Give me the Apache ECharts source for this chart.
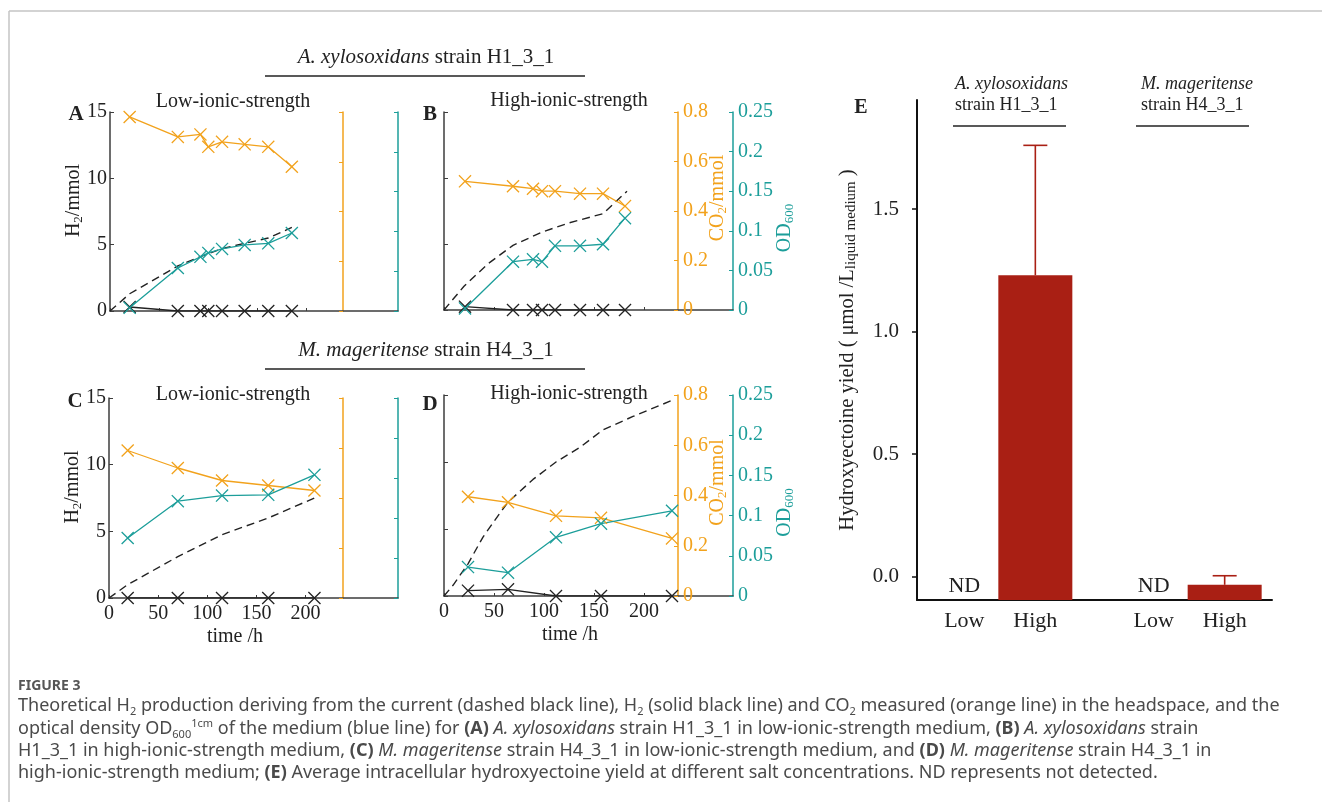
<!DOCTYPE html>
<html>
<head>
<meta charset="utf-8">
<script src="https://cdn.jsdelivr.net/npm/echarts@6/dist/echarts.min.js"></script>
<style>
html, body { margin: 0; padding: 0; background: #fff; }
#chart { width: 1322px; height: 802px; }
</style>
</head>
<body>
<div id="chart"></div>
<script>
// ---- data ----
// A: A. xylosoxidans, low ionic strength
const timeA = [20, 69, 92, 100, 114, 137, 161, 185];
const h2A = [0.3, 0, 0, 0, 0, 0, 0, 0];
const co2A = [0.78, 0.70, 0.71, 0.66, 0.68, 0.67, 0.66, 0.58];
const odA = [0.004, 0.054, 0.068, 0.073, 0.078, 0.083, 0.085, 0.098];
const theoTimeA = [0, 20, 69, 92, 114, 137, 161, 185];
const theoA = [0, 1.3, 3.4, 4.1, 4.7, 5.1, 5.5, 6.3];

// B: A. xylosoxidans, high ionic strength
const timeB = [21, 69, 89, 98, 111, 136, 159, 181];
const h2B = [0.25, 0, 0, 0, 0, 0, 0, 0];
const co2B = [0.52, 0.50, 0.49, 0.48, 0.48, 0.47, 0.47, 0.42];
const odB = [0.002, 0.061, 0.064, 0.061, 0.081, 0.081, 0.083, 0.116];
const theoTimeB = [0, 20, 44, 69, 98, 125, 159, 183];
const theoB = [0, 1.8, 3.5, 4.9, 5.9, 6.6, 7.3, 9.0];

// C: M. mageritense, low ionic strength
const timeC = [19, 70, 115, 162, 209];
const h2C = [0, 0, 0, 0, 0];
const co2C = [0.59, 0.52, 0.47, 0.45, 0.43];
const odC = [0.075, 0.121, 0.128, 0.129, 0.154];
const theoTimeC = [0, 19, 70, 115, 162, 209];
const theoC = [0, 1.0, 3.1, 4.75, 6.0, 7.5];

// D: M. mageritense, high ionic strength
const timeD = [24, 64, 112, 157, 228];
const h2D = [0.4, 0.5, 0, 0, 0];
const co2D = [0.395, 0.373, 0.319, 0.311, 0.229];
const odD = [0.036, 0.029, 0.073, 0.090, 0.106];
const theoTimeD = [0, 9, 24, 39, 56, 64, 89, 112, 136, 159, 189, 228];
const theoD = [0, 0.8, 2.4, 4.4, 6.2, 7.0, 8.7, 10.0, 11.1, 12.4, 13.4, 14.6];

const timeTicks = [0, 50, 100, 150, 200];

// E: hydroxyectoine yield (null = not detected)
const eLabels = ['Low', 'High', 'Low', 'High'];
const eYield = [null, 1.23, null, -0.033];
const eErr = [null, 0.53, null, 0.037];
const eTicks = [0, 0.5, 1.0, 1.5];

// ---- styling ----
const SERIF = '"Liberation Serif", "DejaVu Serif", serif';
const SANS = '"Noto Sans", "Open Sans", sans-serif';
const AXIS = '#3c3c3c';
const ORANGE = '#F2A21C';
const TEAL = '#1C9E9A';
const BLACK = '#222';
const RED = '#A91F14';
const CAP = '#4a4a4a';
const XMARK = 'path://M0,0.7L0.7,0L5,4.3L9.3,0L10,0.7L5.7,5L10,9.3L9.3,10L5,5.7L0.7,10L0,9.3L4.3,5Z';

let chart = echarts.init(document.getElementById('chart'));

const grids = [];
const xAxes = [];
const yAxes = [];
const series = [];

function zip(xs, ys) {
    return xs.map((x, i) => [x, ys[i]]);
}

function nameRich(color, size) {
    return {
        t: { fontFamily: SERIF, fontSize: size, color: color, lineHeight: 22 },
        s: { fontFamily: SERIF, fontSize: size * 0.65, color: color, lineHeight: 11, verticalAlign: 'bottom' }
    };
}

function addPanel(p) {
    const gi = grids.length;
    grids.push({ left: p.left, top: p.top, width: p.width, height: p.height });

    xAxes.push({
        type: 'value', gridIndex: gi, min: 0, max: p.xMax,
        axisLine: { onZero: false, lineStyle: { color: AXIS, width: 1.5 } },
        axisTick: { inside: true, length: 3, customValues: timeTicks, lineStyle: { color: AXIS } },
        axisLabel: { show: p.xLabels, customValues: timeTicks, fontFamily: SERIF, fontSize: 20, color: '#222', margin: 6 },
        splitLine: { show: false },
        name: p.xLabels ? 'time /h' : '',
        nameLocation: 'middle', nameGap: 29, nameMoveOverlap: false,
        nameTextStyle: { fontFamily: SERIF, fontSize: 20, color: '#222', padding: [0, 37, 0, 0] }
    });

    const yi = yAxes.length;
    yAxes.push({
        type: 'value', gridIndex: gi, position: 'left', min: 0, max: 15, interval: 5,
        axisLine: { show: true, onZero: false, lineStyle: { color: AXIS, width: 1.5 } },
        axisTick: { show: true, inside: true, length: 4, lineStyle: { color: AXIS } },
        axisLabel: { show: p.leftLabels, fontFamily: SERIF, fontSize: 20, color: '#222', margin: 3 },
        splitLine: { show: false },
        name: p.leftLabels ? '{t|H}{s|2}{t|/mmol}' : '',
        nameLocation: 'middle', nameGap: 25, nameRotate: 90, nameMoveOverlap: false,
        nameTextStyle: { rich: nameRich('#222', 20), padding: [0, 0, 0, 22] }
    });
    yAxes.push({
        type: 'value', gridIndex: gi, position: 'right', offset: -55, min: 0, max: 0.8, interval: 0.2,
        axisLine: { show: true, onZero: false, lineStyle: { color: ORANGE, width: 1.5 } },
        axisTick: { show: true, inside: true, length: 4, lineStyle: { color: ORANGE } },
        axisLabel: { show: p.rightLabels, fontFamily: SERIF, fontSize: 20, color: ORANGE, margin: 5 },
        splitLine: { show: false },
        name: p.rightLabels ? '{t|CO}{s|2}{t|/mmol}' : '',
        nameLocation: 'middle', nameGap: 29, nameRotate: 90, nameMoveOverlap: false,
        nameTextStyle: { rich: nameRich(ORANGE, 20), padding: [0, 0, 0, 26] }
    });
    yAxes.push({
        type: 'value', gridIndex: gi, position: 'right', offset: 0, min: 0, max: 0.25, interval: 0.05,
        axisLine: { show: true, onZero: false, lineStyle: { color: TEAL, width: 1.5 } },
        axisTick: { show: true, inside: true, length: 4, lineStyle: { color: TEAL } },
        axisLabel: { show: p.rightLabels, fontFamily: SERIF, fontSize: 20, color: TEAL, margin: 5 },
        splitLine: { show: false },
        name: p.rightLabels ? '{t|OD}{s|600}' : '',
        nameLocation: 'middle', nameGap: 41, nameRotate: 90, nameMoveOverlap: false,
        nameTextStyle: { rich: nameRich(TEAL, 20), padding: [0, 34, 0, 0] }
    });

    const mark = (color) => ({
        type: 'line', xAxisIndex: gi, symbol: XMARK, symbolSize: 13,
        lineStyle: { color: color, width: 1.3 },
        itemStyle: { color: color }
    });

    series.push({
        type: 'line', xAxisIndex: gi, yAxisIndex: yi, showSymbol: false,
        lineStyle: { color: BLACK, width: 1.4, type: [8, 5] },
        data: zip(p.theoTime, p.theo)
    });
    series.push(Object.assign(mark(BLACK), { yAxisIndex: yi, data: zip(p.time, p.h2) }));
    series.push(Object.assign(mark(ORANGE), { yAxisIndex: yi + 1, data: zip(p.time, p.co2) }));
    series.push(Object.assign(mark(TEAL), { yAxisIndex: yi + 2, data: zip(p.time, p.od) }));
}

addPanel({ left: 110, top: 112, width: 288, height: 199, xMax: 293, xLabels: false, leftLabels: true, rightLabels: false,
    time: timeA, h2: h2A, co2: co2A, od: odA, theoTime: theoTimeA, theo: theoA });
addPanel({ left: 444, top: 112, width: 289, height: 198, xMax: 289, xLabels: false, leftLabels: false, rightLabels: true,
    time: timeB, h2: h2B, co2: co2B, od: odB, theoTime: theoTimeB, theo: theoB });
addPanel({ left: 109, top: 398, width: 289, height: 200, xMax: 294, xLabels: true, leftLabels: true, rightLabels: false,
    time: timeC, h2: h2C, co2: co2C, od: odC, theoTime: theoTimeC, theo: theoC });
addPanel({ left: 444, top: 395, width: 289, height: 201, xMax: 289, xLabels: true, leftLabels: false, rightLabels: true,
    time: timeD, h2: h2D, co2: co2D, od: odD, theoTime: theoTimeD, theo: theoD });

// ---- panel E ----
const eMin = -0.095;
const eSlot = [2, 5, 10, 13]; // where each bar sits on a 16-slot axis
const eSlots = new Array(16).fill('');
eSlot.forEach((s, i) => { eSlots[s] = eLabels[i]; });

const eGrid = grids.length;
grids.push({ left: 917, top: 100, width: 355, height: 500 });
xAxes.push({
    type: 'category', gridIndex: eGrid, data: eSlots, boundaryGap: false,
    axisLine: { onZero: false, lineStyle: { color: '#111', width: 2 } },
    axisTick: { show: false },
    axisLabel: { interval: 0, fontFamily: SERIF, fontSize: 22, color: '#222', margin: 10 },
    splitLine: { show: false }
});
const eY = yAxes.length;
yAxes.push({
    type: 'value', gridIndex: eGrid, min: eMin, max: 1.945,
    axisLine: { show: true, onZero: false, lineStyle: { color: '#111', width: 2 } },
    axisTick: { show: true, length: 5, customValues: eTicks, lineStyle: { color: '#111', width: 1.5 } },
    axisLabel: { customValues: eTicks, formatter: v => v.toFixed(1), fontFamily: SERIF, fontSize: 21, color: '#222', margin: 18 },
    splitLine: { show: false },
    name: '{t|Hydroxyectoine yield ( μmol /L}{s|liquid medium}{t| )}',
    nameLocation: 'middle', nameGap: 58, nameRotate: 90, nameMoveOverlap: false,
    nameTextStyle: { rich: {
        t: { fontFamily: SERIF, fontSize: 20.5, color: '#222', lineHeight: 22 },
        s: { fontFamily: SERIF, fontSize: 15, color: '#222', lineHeight: 13, verticalAlign: 'bottom' }
    } }
});

const eBars = [];
const eND = [];
eYield.forEach((v, i) => {
    if (v === null) eND.push([eSlot[i], 0]);
    else eBars.push([eSlot[i], v, eErr[i]]);
});

series.push({
    type: 'custom', xAxisIndex: eGrid, yAxisIndex: eY,
    renderItem: function (params, api) {
        const x = api.value(0);
        const v = api.value(1);
        const base = api.coord([x, eMin]);
        const top = api.coord([x, v]);
        const err = api.coord([x, v + api.value(2)]);
        return {
            type: 'group',
            children: [
                { type: 'rect', shape: { x: base[0] - 37, y: top[1], width: 74, height: base[1] - top[1] }, style: { fill: RED } },
                { type: 'line', shape: { x1: top[0], y1: top[1], x2: err[0], y2: err[1] }, style: { stroke: RED, lineWidth: 1.6 } },
                { type: 'line', shape: { x1: err[0] - 12, y1: err[1], x2: err[0] + 12, y2: err[1] }, style: { stroke: RED, lineWidth: 1.6 } }
            ]
        };
    },
    data: eBars
});
series.push({
    type: 'custom', xAxisIndex: eGrid, yAxisIndex: eY,
    renderItem: function (params, api) {
        const p = api.coord([api.value(0), api.value(1)]);
        return {
            type: 'text', x: p[0], y: p[1] - 1,
            style: { text: 'ND', fontFamily: SERIF, fontSize: 22, fill: '#222', align: 'center', verticalAlign: 'top' }
        };
    },
    data: eND
});

// ---- text and frame ----
function txt(x, y, text, opt) {
    return {
        type: 'text', x: x, y: y, silent: true,
        style: Object.assign({
            text: text, fontFamily: SERIF, fontSize: 20, fill: '#222',
            align: 'center', verticalAlign: 'middle', textAlign: 'center', textVerticalAlign: 'middle'
        }, opt || {})
    };
}

const hdrRich = {
    i: { fontFamily: SERIF, fontSize: 21, fontStyle: 'italic', fill: '#222' },
    n: { fontFamily: SERIF, fontSize: 21, fill: '#222' }
};
const capRich = {
    n: { fontFamily: SANS, fontSize: 18, fill: CAP, lineHeight: 22 },
    i: { fontFamily: SANS, fontSize: 18, fontStyle: 'italic', fill: CAP, lineHeight: 22 },
    b: { fontFamily: SANS, fontSize: 18, fontWeight: 'bold', fill: CAP, lineHeight: 22 },
    s: { fontFamily: SANS, fontSize: 11, fill: CAP, lineHeight: 11, verticalAlign: 'bottom' },
    u: { fontFamily: SANS, fontSize: 11, fill: CAP, lineHeight: 11, verticalAlign: 'top' }
};
function cap(y, text) {
    return txt(18, y, text, { rich: capRich, align: 'left', textAlign: 'left' });
}

const graphics = [
    { type: 'line', silent: true, shape: { x1: 9, y1: 11, x2: 1322, y2: 11 }, style: { stroke: '#c4c4c4', lineWidth: 1.5 } },
    { type: 'line', silent: true, shape: { x1: 9, y1: 11, x2: 9, y2: 802 }, style: { stroke: '#c4c4c4', lineWidth: 1.5 } },

    txt(426, 57, '{i|A. xylosoxidans}{n| strain H1_3_1}', { rich: hdrRich }),
    { type: 'line', silent: true, shape: { x1: 265, y1: 76, x2: 585, y2: 76 }, style: { stroke: '#222', lineWidth: 1.3 } },
    txt(426, 350, '{i|M. mageritense}{n| strain H4_3_1}', { rich: hdrRich }),
    { type: 'line', silent: true, shape: { x1: 265, y1: 369, x2: 585, y2: 369 }, style: { stroke: '#222', lineWidth: 1.3 } },

    txt(233, 102, 'Low-ionic-strength'),
    txt(569, 101, 'High-ionic-strength'),
    txt(233, 395, 'Low-ionic-strength'),
    txt(569, 394, 'High-ionic-strength'),

    txt(76, 115, 'A', { fontWeight: 'bold', fontSize: 21 }),
    txt(430, 115, 'B', { fontWeight: 'bold', fontSize: 21 }),
    txt(75, 402, 'C', { fontWeight: 'bold', fontSize: 21 }),
    txt(430, 405, 'D', { fontWeight: 'bold', fontSize: 21 }),
    txt(861, 108, 'E', { fontWeight: 'bold', fontSize: 20 }),

    txt(955, 84, 'A. xylosoxidans', { fontStyle: 'italic', fontSize: 18, align: 'left', textAlign: 'left' }),
    txt(955, 105, 'strain H1_3_1', { fontSize: 18, align: 'left', textAlign: 'left' }),
    { type: 'line', silent: true, shape: { x1: 953, y1: 126, x2: 1066, y2: 126 }, style: { stroke: '#222', lineWidth: 1.3 } },
    txt(1141, 84, 'M. mageritense', { fontStyle: 'italic', fontSize: 18, align: 'left', textAlign: 'left' }),
    txt(1141, 105, 'strain H4_3_1', { fontSize: 18, align: 'left', textAlign: 'left' }),
    { type: 'line', silent: true, shape: { x1: 1136, y1: 126, x2: 1249, y2: 126 }, style: { stroke: '#222', lineWidth: 1.3 } },

    txt(18, 686, 'FIGURE 3', { fontFamily: SANS, fontSize: 14, fontWeight: 'bold', fill: '#555', align: 'left', textAlign: 'left' }),
    cap(706, '{n|Theoretical H}{s|2}{n| production deriving from the current (dashed black line), H}{s|2}{n| (solid black line) and CO}{s|2}{n| measured (orange line) in the headspace, and the}'),
    cap(729, '{n|optical density OD}{s|600}{u|1cm}{n| of the medium (blue line) for }{b|(A)}{n| }{i|A. xylosoxidans}{n| strain H1_3_1 in low-ionic-strength medium, }{b|(B)}{n| }{i|A. xylosoxidans}{n| strain}'),
    cap(751, '{n|H1_3_1 in high-ionic-strength medium, }{b|(C)}{n| }{i|M. mageritense}{n| strain H4_3_1 in low-ionic-strength medium, and }{b|(D)}{n| }{i|M. mageritense}{n| strain H4_3_1 in}'),
    cap(773, '{n|high-ionic-strength medium; }{b|(E)}{n| Average intracellular hydroxyectoine yield at different salt concentrations. ND represents not detected.}')
];

const option = {
    backgroundColor: '#fff',
    animation: false,
    grid: grids,
    xAxis: xAxes,
    yAxis: yAxes,
    series: series,
    graphic: graphics
};

chart.setOption(option);
</script>
</body>
</html>
